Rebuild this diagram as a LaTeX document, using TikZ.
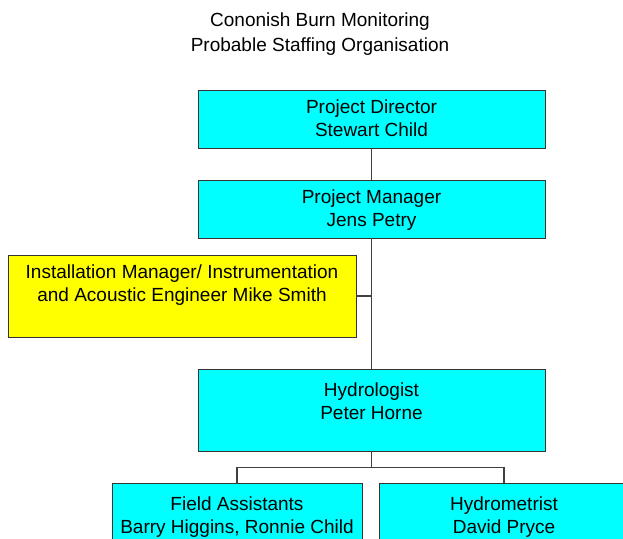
\documentclass[tikz,border=0pt]{standalone}
\usepackage{fontspec}
\setmainfont{Liberation Sans}
\usepackage{tikz}
\usetikzlibrary{positioning,calc}
\definecolor{aqua}{RGB}{0,255,255}
\definecolor{lemon}{RGB}{255,255,0}

\begin{document}
\begin{tikzpicture}[x=1pt,y=1pt,
        post/.style={draw=black!80, line width=0.9pt, fill=aqua, inner sep=0pt, minimum width=347pt, minimum height=58pt},
        wide/.style={post, minimum height=82pt},
        txt/.style={align=center, inner sep=0pt, font=\fontsize{19}{23}\selectfont},
        link/.style={draw=black!75, line width=1.2pt}]
        \clip (0,0) rectangle (623,538);
        \useasboundingbox (0,0) rectangle (623,538);

        % heading
        \node[txt, font=\fontsize{19}{25}\selectfont, anchor=north] (title) at (320,525) {Cononish Burn Monitoring\\Probable Staffing Organisation};

        % boxes
        \node[post] (director) at (371.5,419) {};
        \node[post] (manager) at (371.5,329) {};
        \node[wide, fill=lemon, minimum width=348pt] (install) at (182,242) {};
        \node[wide] (hydro) at (371.5,128) {};
        \node[wide, minimum width=250pt] (field) at (237,14) {};
        \node[wide, minimum width=250pt] (metrist) at (504,14) {};

        % names
        \node[txt, below=10pt of director.north] (directortxt) {Project Director\\Stewart Child};
        \node[txt, below=10pt of manager.north] (managertxt) {Project Manager\\Jens Petry};
        \node[txt, below=10pt of install.north] (installtxt) {Installation Manager/ Instrumentation\\and Acoustic Engineer Mike Smith};
        \node[txt, below=14pt of hydro.north] (hydrotxt) {Hydrologist\\Peter Horne};
        \node[txt, below=14pt of field.north] (fieldtxt) {Field Assistants\\Barry Higgins, Ronnie Child};
        \node[txt, below=14pt of metrist.north] (metristtxt) {Hydrometrist\\David Pryce};

        % lines
        \draw[link] (director) -- (manager);
        \draw[link] (manager) -- (hydro);
        \coordinate (tap) at (manager.south |- install.east);
        \draw[link] (install) -- (tap);
        \coordinate (split) at ($(hydro.south)+(0,-16)$);
        \draw[link] (hydro) -- (split) -| (field);
        \draw[link] (split) -| (metrist);
\end{tikzpicture}
\end{document}
